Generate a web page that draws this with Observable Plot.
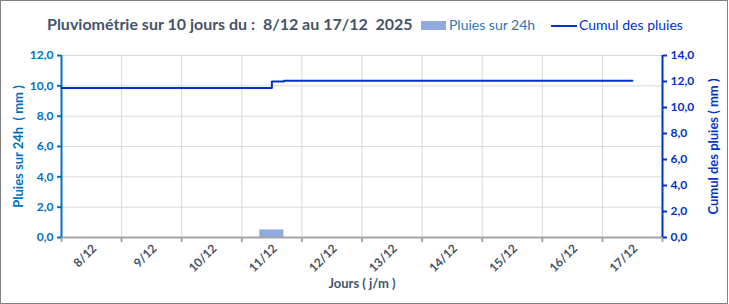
<!DOCTYPE html>
<html><head><meta charset="utf-8">
<script src="https://cdn.jsdelivr.net/npm/d3@7"></script>
<script src="https://cdn.jsdelivr.net/npm/@observablehq/plot@0.6"></script>
<style>
body{margin:0;background:#fff;font-family:Lato,sans-serif}
#wrap{position:relative;width:729px;height:304px;overflow:hidden;background:#fff}
#frame{position:absolute;left:0;top:0;width:728px;height:304px;border:1px solid #808080;box-sizing:border-box;pointer-events:none}
#title{position:absolute;left:47px;top:14px;font-weight:bold;font-size:16px;color:#44546A;white-space:pre;line-height:20px}
.lg{position:absolute;top:15px;font-size:14px;line-height:20px;white-space:pre}
#sw1{position:absolute;left:421px;top:21px;width:25px;height:9px;background:#8FAADC}
#sw2{position:absolute;left:551px;top:25px;width:26px;height:2px;background:#0033CC}
#chart{position:absolute;left:0;top:0}
</style></head>
<body>
<div id="wrap">
  <div id="chart"></div>
  <div id="title"></div>
  <div id="sw1"></div><div class="lg" id="lg1" style="left:449px;color:#2E75B6"></div>
  <div id="sw2"></div><div class="lg" id="lg2" style="left:579px;color:#0033CC"></div>
  <div id="frame"></div>
</div>
<script>
const titleText = "Pluviométrie sur 10 jours du :  8/12 au 17/12  2025";
const seriesNames = ["Pluies sur 24h", "Cumul des pluies"];
const days = ["8/12","9/12","10/12","11/12","12/12","13/12","14/12","15/12","16/12","17/12"];
const rain24h = [0, 0, 0, 0.5, 0, 0, 0, 0, 0, 0];
const cumulX = [0, 3.5, 3.5, 3.7, 3.7, 9.5];
const cumulY = [11.5, 11.5, 12.0, 12.0, 12.05, 12.05];
const leftTicks = [0, 2, 4, 6, 8, 10, 12];
const rightTicks = [0, 2, 4, 6, 8, 10, 12, 14];
const leftLabel = "Pluies sur 24h  ( mm )";
const rightLabel = "Cumul des pluies ( mm )";
const xLabel = "Jours ( j/m )";

document.getElementById("title").textContent = titleText;
document.getElementById("lg1").textContent = seriesNames[0];
document.getElementById("lg2").textContent = seriesNames[1];

const leftMax = 12, rightMax = 14;
const k = leftMax / rightMax;
const fmt = d => (Math.round(d * 10) / 10).toFixed(1).replace(".", ",");
const cumul = cumulX.map((x, i) => ({x, y: cumulY[i] * k}));
const bars = rain24h.map((v, i) => ({i, v}));
const xTicks = d3.range(days.length + 1);

const chart = Plot.plot({
  width: 729, height: 304,
  marginLeft: 61, marginRight: 67, marginTop: 55, marginBottom: 67,
  x: {domain: [0, days.length], axis: null},
  y: {domain: [0, leftMax], axis: null},
  style: {fontFamily: "Lato, sans-serif", background: "transparent"},
  marks: [
    Plot.gridY(leftTicks, {stroke: "#D9D9D9", strokeOpacity: 1}),
    Plot.gridX(xTicks, {stroke: "#D9D9D9", strokeOpacity: 1}),
    Plot.rectY(bars, {x1: d => d.i + 0.3, x2: d => d.i + 0.7, y: "v", fill: "#8FAADC"}),
    Plot.ruleY([0], {stroke: "#A6A6A6", strokeWidth: 2}),
    Plot.axisX(xTicks, {tickSize: 5, tickFormat: () => "", stroke: "#A6A6A6", strokeWidth: 2, label: null}),
    Plot.text(days, {x: (d, i) => i + 0.5, y: 0, dy: 9, dx: 3, rotate: -45, textAnchor: "end", fill: "#44546A", fontSize: 12, fontWeight: "bold"}),
    Plot.text([xLabel], {frameAnchor: "bottom", dy: 50, fill: "#44546A", fontSize: 13, fontWeight: "bold"}),
    Plot.ruleX([0], {y1: 0, y2: leftMax, stroke: "#0070C0", strokeWidth: 2}),
    Plot.axisY(leftTicks, {anchor: "left", tickSize: 4, tickPadding: 4, tickFormat: fmt, stroke: "#0070C0", strokeWidth: 2, fill: "#0070C0", fontSize: 12, fontWeight: "bold", label: null}),
    Plot.text([leftLabel], {frameAnchor: "left", dx: -43, rotate: -90, textAnchor: "middle", fill: "#0070C0", fontSize: 13, fontWeight: "bold"}),
    Plot.ruleX([days.length], {y1: 0, y2: leftMax, stroke: "#0033CC", strokeWidth: 2}),
    Plot.axisY(rightTicks.map(v => v * k), {anchor: "right", tickSize: 4, tickPadding: 4, tickFormat: d => fmt(d / k), stroke: "#0033CC", strokeWidth: 2, fill: "#0033CC", fontSize: 12, fontWeight: "bold", label: null}),
    Plot.text([rightLabel], {frameAnchor: "right", dx: 51, rotate: -90, textAnchor: "middle", fill: "#0033CC", fontSize: 13, fontWeight: "bold"}),
    Plot.line(cumul, {x: "x", y: "y", stroke: "#0033CC", strokeWidth: 2})
  ]
});
document.getElementById("chart").append(chart);
</script>
</body></html>
